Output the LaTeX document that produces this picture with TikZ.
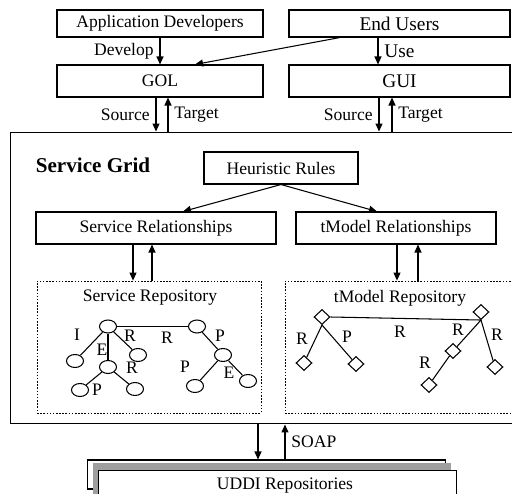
\documentclass[tikz,border=0pt]{standalone}
\usepackage{fontspec}
\setmainfont{Liberation Serif}
\usetikzlibrary{positioning, shapes.geometric, arrows.meta}

\begin{document}
\begin{tikzpicture}[
            x=0.02cm, y=-0.02cm,
            >={Triangle[length=1.6mm, width=1.4mm]},
            line width=0.6pt,
            every node/.style={font=\fontsize{10}{12}\selectfont},
            % Styles
            box/.style={rectangle, draw, minimum height=0.64cm, inner sep=2pt},
            bigtext/.style={font=\fontsize{11}{13}\selectfont},
            repo/.style={rectangle, draw, line width=0.5pt, dash pattern=on 0.9pt off 0.9pt, minimum height=2.64cm},
            svc/.style={ellipse, draw, minimum width=0.34cm, minimum height=0.26cm, inner sep=0pt},
            tmod/.style={diamond, draw, minimum width=0.32cm, minimum height=0.3cm, inner sep=0pt},
            rel/.style={inner sep=0pt}
          ]
          \useasboundingbox (0,0) rectangle (512,494);
          % 1. Users and front ends
          \node[box, minimum width=4.12cm, minimum height=0.54cm] (appdev) at (160,23.5) {Application Developers};
          \node[box, bigtext, minimum width=4.42cm, minimum height=0.54cm] (users) at (399.5,23.5) {End Users};
          \node[box, minimum width=4.12cm] (gol) at (160,81) {GOL};
          \node[box, bigtext, minimum width=4.42cm] (gui) at (399.5,81) {GUI};
          % 2. Service Grid
          \node[box, minimum width=10.08cm, minimum height=5.84cm] (grid) at (262,278) {};
          \node[font=\fontsize{12}{14}\selectfont\bfseries] (gridlbl) at (93,165) {Service Grid};
          \node[box, minimum width=3.08cm] (rules) at (281,168) {Heuristic Rules};
          \node[box, minimum width=4.8cm] (srel) at (156,228) {Service Relationships};
          \node[box, minimum width=4.0cm] (trel) at (396,228) {tModel Relationships};
          \node[repo, minimum width=4.48cm] (srepo) at (149,347) {};
          \node[repo, minimum width=4.7cm] (trepo) at (402.5,347) {};
          \node (srepolbl) at (150,298) {Service Repository};
          \node (trepolbl) at (400,298) {tModel Repository};
          % 3. Service tree
          \node[svc] (sa) at (108,326.5) {};
          \node[svc] (sb) at (197,326.5) {};
          \node[svc] (sc) at (75,361) {};
          \node[svc] (sd) at (108,367) {};
          \node[svc] (sf) at (138,355) {};
          \node[svc] (sg) at (80,390) {};
          \node[svc] (sh) at (135,389) {};
          \node[svc] (sk) at (223,355) {};
          \node[svc] (sl) at (195,386) {};
          \node[svc] (sm) at (248,381) {};
          \foreach \a/\b in {sa/sb, sa/sc, sa/sd, sa/sf, sd/sg, sd/sh, sb/sk, sk/sl, sk/sm}
            \draw (\a) -- (\b);
          \node[rel] at (77,335) {I};
          \node[rel] at (102,350) {E};
          \node[rel] at (130,336) {R};
          \node[rel] at (167,338) {R};
          \node[rel] at (97,390) {P};
          \node[rel] at (132,368) {R};
          \node[rel] at (220,336) {P};
          \node[rel] at (185,367) {P};
          \node[rel] at (229,373) {E};
          % 4. tModel tree
          \node[tmod] (ta) at (322,317) {};
          \node[tmod] (tb) at (481,312) {};
          \node[tmod] (tc) at (304,363) {};
          \node[tmod] (td) at (356,364) {};
          \node[tmod] (te) at (453,351) {};
          \node[tmod] (tf) at (429,385) {};
          \node[tmod] (tg) at (495,367) {};
          \draw (ta.east) -- (tb.south);
          \foreach \a/\b in {ta.south/tc, ta.south/td, tb.south/te, te/tf, tb.south/tg}
            \draw (\a) -- (\b);
          \node[rel] at (302,339) {R};
          \node[rel] at (347,337) {P};
          \node[rel] at (400,332) {R};
          \node[rel] at (458,330) {R};
          \node[rel] at (497,335) {R};
          \node[rel] at (425,363) {R};
          % 5. UDDI Repositories
          \node[box, fill=white, minimum width=7.18cm, minimum height=0.58cm] (uddiback) at (266.5,474.5) {};
          \node[rectangle, draw=gray!75, fill=gray!75, minimum width=7.16cm, minimum height=0.72cm] (uddimid) at (272,482) {};
          \node[box, fill=white, minimum width=7.18cm, minimum height=0.7cm] (uddi) at (277.5,488) {};
          \node (uddilbl) at (285,486) {UDDI Repositories};
          % --- Connections ---
          \draw[->] (appdev) -- node[left] {Develop} (gol);
          \draw[->] ([xshift=-1.19cm]users.south) -- ([xshift=0.7cm]gol.north);
          \draw[->] ([xshift=-0.43cm]users.south) -- node[right, bigtext] {Use} ([xshift=-0.43cm]gui.north);
          \draw[->] ([xshift=-0.08cm]gol.south) -- node[left] {Source} ([xshift=-0.08cm]gol.south |- grid.north);
          \draw[<-] ([xshift=0.16cm]gol.south) -- node[right] {Target} ([xshift=0.16cm]gol.south |- grid.north);
          \draw[->] ([xshift=-0.41cm]gui.south) -- node[left] {Source} ([xshift=-0.41cm]gui.south |- grid.north);
          \draw[<-] ([xshift=-0.15cm]gui.south) -- node[right] {Target} ([xshift=-0.15cm]gui.south |- grid.north);
          \draw[->] (rules.south) -- ([xshift=0.54cm]srel.north);
          \draw[->] (rules.south) -- ([xshift=-0.38cm]trel.north);
          \draw[->] ([xshift=-0.46cm]srel.south) -- ([xshift=-0.46cm]srel.south |- srepo.north);
          \draw[<-] ([xshift=-0.08cm]srel.south) -- ([xshift=-0.08cm]srel.south |- srepo.north);
          \draw[->] ([xshift=0.02cm]trel.south) -- ([xshift=0.02cm]trel.south |- trepo.north);
          \draw[<-] ([xshift=0.44cm]trel.south) -- ([xshift=0.44cm]trel.south |- trepo.north);
          \draw[->] ([xshift=-0.08cm]grid.south) -- ([xshift=-0.08cm]grid.south |- uddiback.north);
          \draw[<-] ([xshift=0.46cm]grid.south) -- node[right] {SOAP} ([xshift=0.46cm]grid.south |- uddiback.north);
        \end{tikzpicture}
\end{document}
